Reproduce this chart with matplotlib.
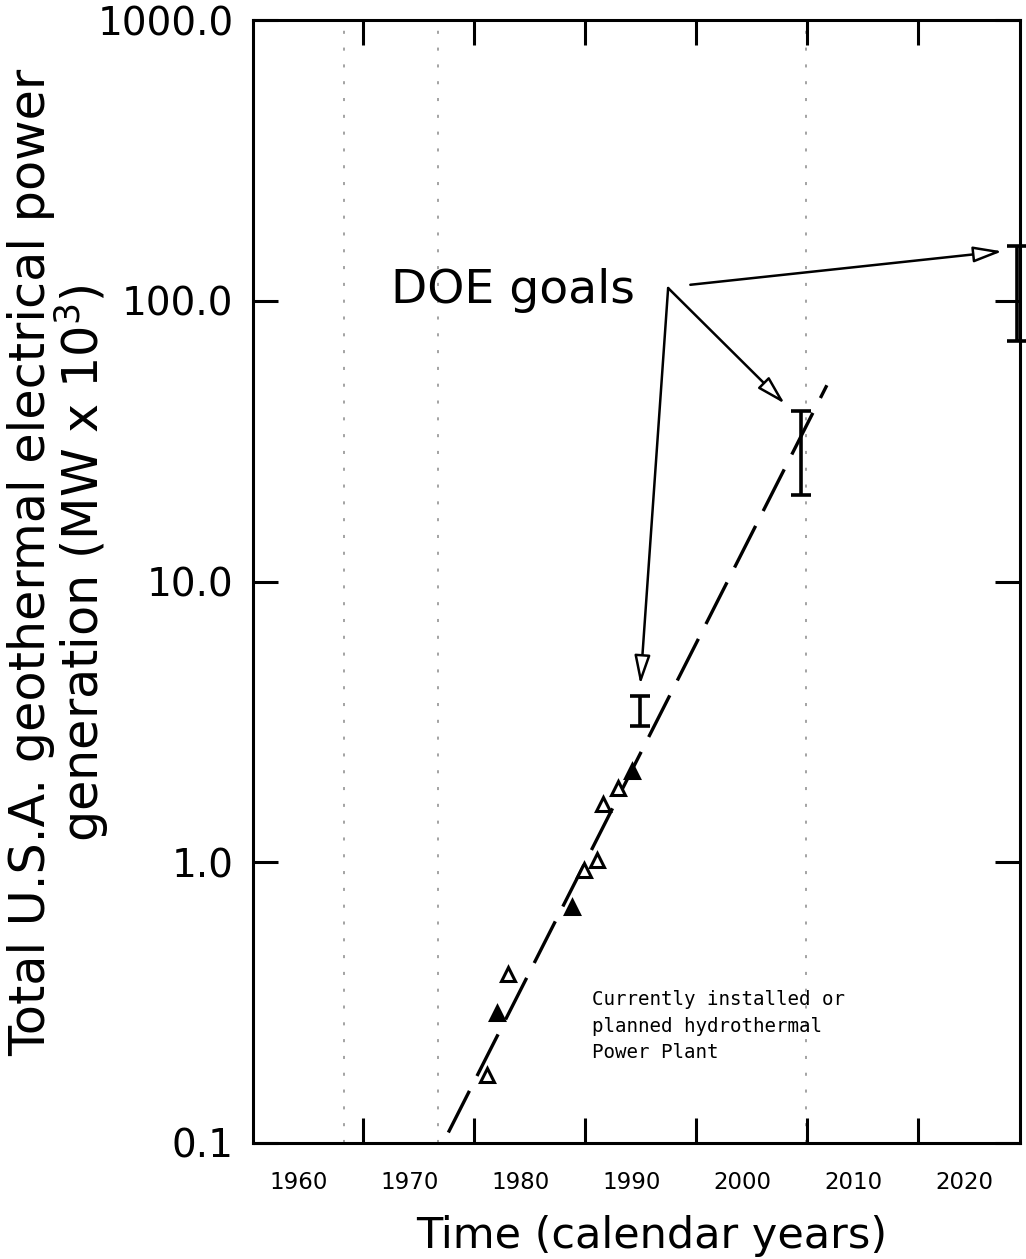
import matplotlib
matplotlib.use('Agg')
import matplotlib.pyplot as plt
import matplotlib.transforms as mtransforms

# installed or planned hydrothermal plants (MW x 10^3)
plant_year = [1976.2, 1977.1, 1978.1, 1983.8, 1984.9, 1986.1, 1986.6, 1988.0, 1989.2]
plant_mw = [0.175, 0.29, 0.40, 0.69, 0.94, 1.02, 1.61, 1.84, 2.11]
plant_filled = [False, True, False, True, False, False, False, False, True]

# extrapolated trend
trend_year = [1972.7, 2006.8]
trend_mw = [0.109, 50.0]

# DOE goal ranges
goal_year = [1990.0, 2004.5, 2023.9]
goal_lo = [3.06, 20.3, 72.0]
goal_hi = [3.92, 40.5, 157.0]

# arrows from the "DOE goals" label to each goal
arrow_from = [(1992.5, 111.0), (1992.5, 111.0), (1994.5, 114.0)]
arrow_to = [(1990.0, 4.3), (2003.0, 43.0), (2022.6, 150.0)]

year_ticks = [1965, 1975, 1985, 1995, 2005, 2015]
year_labels = [1960, 1970, 1980, 1990, 2000, 2010, 2020]
power_ticks = [0.1, 1, 10, 100, 1000]
power_labels = ['0.1', '1.0', '10.0', '100.0', '1000.0']

# faint dashed lines that bleed through on the scanned page
guide_years = [1963.3, 1971.8, 2004.9]

fig = plt.figure(figsize=(10.26, 12.59), dpi=100)
ax = fig.add_axes([253 / 1026, 116 / 1259, 767 / 1026, 1123 / 1259])

ax.set_yscale('log')
ax.set_xlim(1955.1, 2024.2)
ax.set_ylim(0.1, 1000)

for g in guide_years:
    ax.axvline(g, color='#8a8a8a', lw=1.1, dashes=(2, 9), zorder=0)

# trend line
ax.plot(trend_year, trend_mw, color='black', lw=2.4, dashes=(14, 5), solid_capstyle='round')

# plant points
for x, y, f in zip(plant_year, plant_mw, plant_filled):
    ax.plot(x, y, marker='^', ms=10.5, mew=2.2, mec='black',
            mfc='black' if f else 'white', ls='none', zorder=3)

# goal ranges as I-bars
ax.vlines(goal_year, goal_lo, goal_hi, color='black', lw=2.6, clip_on=False)
ax.plot(goal_year, goal_lo, ls='none', marker='_', ms=14, mew=2.6, color='black', clip_on=False)
ax.plot(goal_year, goal_hi, ls='none', marker='_', ms=14, mew=2.6, color='black', clip_on=False)

for (x0, y0), (x1, y1) in zip(arrow_from, arrow_to):
    ax.annotate('', xy=(x1, y1), xytext=(x0, y0),
                arrowprops=dict(arrowstyle='-|>,head_length=0.8,head_width=0.22',
                                mutation_scale=22, lw=1.8, fc='white', ec='black',
                                shrinkA=0, shrinkB=0))

ax.text(1967.5, 98.4, 'DOE goals', fontsize=34, ha='left', va='baseline')
ax.text(1985.6, 0.35, 'Currently installed or\nplanned hydrothermal\nPower Plant',
        family='DejaVu Sans Mono', fontsize=13.8, ha='left', va='top', linespacing=1.5)

# axes styling
for s in ax.spines.values():
    s.set_linewidth(2.2)

ax.set_xticks(year_labels)
ax.set_xticklabels([str(v) for v in year_labels], fontsize=16.5)
ax.set_xticks(year_ticks, minor=True)
ax.tick_params(axis='x', which='major', length=0, pad=20)
ax.tick_params(axis='x', which='minor', direction='in', length=18, width=2.2,
               top=True, bottom=True)
shift = mtransforms.ScaledTranslation(-0.09, 0, fig.dpi_scale_trans)
for lbl in ax.get_xticklabels():
    lbl.set_transform(lbl.get_transform() + shift)

ax.set_yticks(power_ticks)
ax.set_yticklabels(power_labels, fontsize=28)
ax.yaxis.set_minor_locator(matplotlib.ticker.NullLocator())
ax.tick_params(axis='y', which='major', direction='in', length=18, width=2.2,
               left=True, right=True, pad=14)

fig.text(652 / 1026, 11 / 1259, 'Time (calendar years)', fontsize=31,
         ha='center', va='baseline')
fig.text(59 / 1026, 0.553,
         'Total U.S.A. geothermal electrical power\ngeneration (MW x 10$^3$)',
         fontsize=35.5, rotation=90, ha='center', va='center',
         multialignment='center', linespacing=0.93)

fig.savefig('out.png', dpi=100, facecolor='white')
